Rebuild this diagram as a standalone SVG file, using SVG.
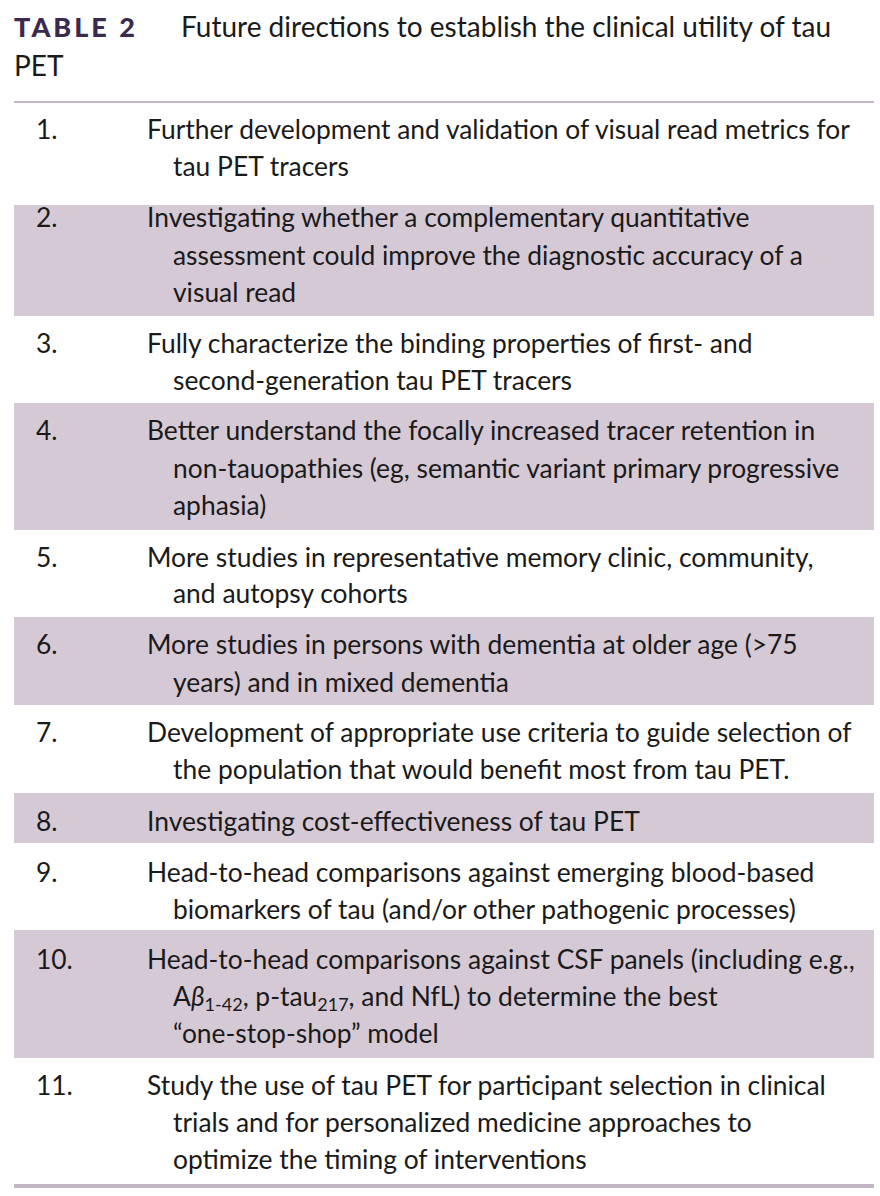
<svg xmlns="http://www.w3.org/2000/svg" width="880" height="1196" viewBox="0 0 880 1196">
<style>
text{font-family:Lato,"Liberation Sans",sans-serif;font-size:26.4px;fill:#1a1a1a}
.t{font-size:28px}
.h{font-weight:900;fill:#3a2a4e;letter-spacing:3px;font-size:27px}
.s{fill:#d6c9d6}
.sub{font-size:18px}
</style>
<rect width="880" height="1196" fill="#fff"/>
<g id="title">
<text class="h" x="14" y="37">TABLE 2</text>
<text class="t" x="181" y="37">Future directions to establish the clinical utility of tau</text>
<text class="t" x="14" y="76">PET</text>
</g>
<g id="shading">
<rect class="s" x="14" y="205" width="860" height="111"/>
<rect class="s" x="14" y="403" width="860" height="127"/>
<rect class="s" x="14" y="617" width="860" height="88"/>
<rect class="s" x="14" y="793" width="860" height="50"/>
<rect class="s" x="14" y="930" width="860" height="128"/>
</g>
<g id="rules">
<rect x="14" y="101" width="860" height="2" fill="#c2b6c4"/>
<rect x="14" y="1184" width="860" height="4" fill="#c2b6c4"/>
</g>
<g id="r1"><text x="36" y="139">1.</text><text x="147" y="139">Further development and validation of visual read metrics for</text><text x="173" y="176">tau PET tracers</text></g>
<g id="r2"><text x="36" y="227">2.</text><text x="147" y="227">Investigating whether a complementary quantitative</text><text x="173" y="265">assessment could improve the diagnostic accuracy of a</text><text x="173" y="302">visual read</text></g>
<g id="r3"><text x="36" y="353">3.</text><text x="147" y="353">Fully characterize the binding properties of first- and</text><text x="173" y="390">second-generation tau PET tracers</text></g>
<g id="r4"><text x="36" y="440">4.</text><text x="147" y="440">Better understand the focally increased tracer retention in</text><text x="173" y="478">non-tauopathies (eg, semantic variant primary progressive</text><text x="173" y="515">aphasia)</text></g>
<g id="r5"><text x="36" y="567">5.</text><text x="147" y="567">More studies in representative memory clinic, community,</text><text x="173" y="603">and autopsy cohorts</text></g>
<g id="r6"><text x="36" y="654">6.</text><text x="147" y="654">More studies in persons with dementia at older age (&gt;75</text><text x="173" y="692">years) and in mixed dementia</text></g>
<g id="r7"><text x="36" y="742">7.</text><text x="147" y="742">Development of appropriate use criteria to guide selection of</text><text x="173" y="779">the population that would benefit most from tau PET.</text></g>
<g id="r8"><text x="36" y="831">8.</text><text x="147" y="831">Investigating cost-effectiveness of tau PET</text></g>
<g id="r9"><text x="36" y="882">9.</text><text x="147" y="882">Head-to-head comparisons against emerging blood-based</text><text x="173" y="919">biomarkers of tau (and/or other pathogenic processes)</text></g>
<g id="r10"><text x="36" y="969">10.</text><text x="147" y="969">Head-to-head comparisons against CSF panels (including e.g.,</text><text x="173" y="1006">A<tspan font-style="italic">β</tspan><tspan class="sub" dy="5">1-42</tspan><tspan dy="-5">, p-tau</tspan><tspan class="sub" dy="5">217</tspan><tspan dy="-5">, and NfL) to determine the best</tspan></text><text x="173" y="1043">“one-stop-shop” model</text></g>
<g id="r11"><text x="36" y="1095">11.</text><text x="147" y="1095">Study the use of tau PET for participant selection in clinical</text><text x="173" y="1132">trials and for personalized medicine approaches to</text><text x="173" y="1169">optimize the timing of interventions</text></g>
</svg>
